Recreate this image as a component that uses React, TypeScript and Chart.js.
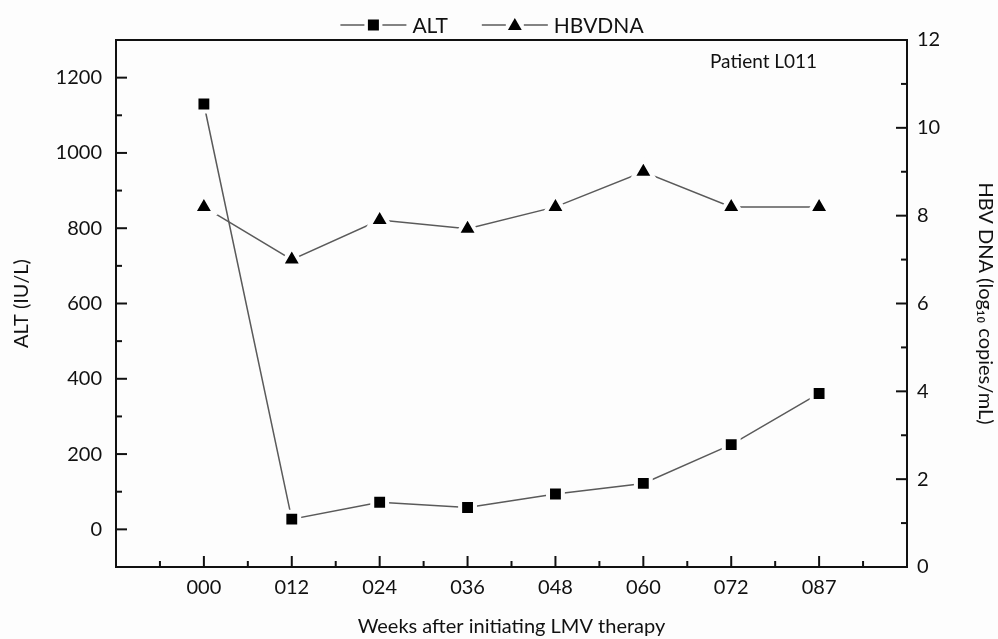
import React, { useEffect, useRef } from 'react';
import { Chart, registerables } from 'chart.js';
Chart.register(...registerables);

const weekLabels = ['000', '012', '024', '036', '048', '060', '072', '087'];
const altValues = [1130, 27, 72, 58, 94, 122, 225, 361];
const hbvValues = [8.2, 7.0, 7.9, 7.7, 8.2, 9.0, 8.2, 8.2];
const altTicks = [0, 200, 400, 600, 800, 1000, 1200];
const hbvTicks = [0, 2, 4, 6, 8, 10, 12];
const seriesNames = ['ALT', 'HBVDNA'];

const FONT = 'Lato, "Open Sans", sans-serif';
const LINE_COLOR = '#5a5a5a';

function drawMarker(ctx: CanvasRenderingContext2D, kind: string, x: number, y: number) {
  ctx.save();
  ctx.fillStyle = '#000';
  ctx.beginPath();
  if (kind === 'rect') {
    ctx.rect(x - 5.5, y - 5.5, 11, 11);
  } else {
    const r = 8;
    ctx.moveTo(x, y - r);
    ctx.lineTo(x + r * 0.866, y + r / 2);
    ctx.lineTo(x - r * 0.866, y + r / 2);
    ctx.closePath();
  }
  ctx.fill();
  ctx.restore();
}

const framePlugin = {
  id: 'framePlugin',
  afterDraw(chart: any) {
    const { ctx, chartArea } = chart;
    const { left, right, top, bottom } = chartArea;
    const xS = chart.scales.x;
    const yL = chart.scales.y;
    const yR = chart.scales.y1;
    ctx.save();
    ctx.strokeStyle = '#111';
    ctx.lineWidth = 2;
    ctx.strokeRect(left, top, right - left, bottom - top);
    const tick = (x1: number, y1: number, x2: number, y2: number) => {
      ctx.beginPath();
      ctx.moveTo(x1, y1);
      ctx.lineTo(x2, y2);
      ctx.stroke();
    };
    altTicks.forEach((v, i) => {
      const y = yL.getPixelForValue(v);
      tick(left, y, left + 11, y);
      if (i < altTicks.length - 1) {
        const ym = yL.getPixelForValue((v + altTicks[i + 1]) / 2);
        tick(left, ym, left + 6, ym);
      }
    });
    hbvTicks.forEach((v, i) => {
      const y = yR.getPixelForValue(v);
      tick(right, y, right - 11, y);
      if (i < hbvTicks.length - 1) {
        const ym = yR.getPixelForValue((v + hbvTicks[i + 1]) / 2);
        tick(right, ym, right - 6, ym);
      }
    });
    weekLabels.forEach((_, i) => {
      const x = xS.getPixelForValue(i);
      tick(x, bottom, x, bottom - 11);
      const xm1 = xS.getPixelForValue(i - 0.5);
      tick(xm1, bottom, xm1, bottom - 6);
      if (i === weekLabels.length - 1) {
        const xm2 = xS.getPixelForValue(i + 0.5);
        tick(xm2, bottom, xm2, bottom - 6);
      }
    });

    ctx.fillStyle = '#111';
    ctx.font = `19px ${FONT}`;
    ctx.textBaseline = 'middle';
    ctx.textAlign = 'left';
    ctx.fillText('Patient L011', 710, 62);

    ctx.font = `21px ${FONT}`;
    const lineLen = 66;
    const gapText = 6;
    const itemGap = 34;
    const widths = seriesNames.map((n) => ctx.measureText(n).width);
    const total = widths.reduce((a, b) => a + b, 0) + seriesNames.length * (lineLen + gapText) + itemGap * (seriesNames.length - 1);
    let x = 492 - total / 2;
    const ly = 25;
    seriesNames.forEach((name, i) => {
      ctx.strokeStyle = LINE_COLOR;
      ctx.lineWidth = 1.5;
      ctx.beginPath();
      ctx.moveTo(x, ly);
      ctx.lineTo(x + lineLen, ly);
      ctx.stroke();
      ctx.fillStyle = '#fdfdfd';
      ctx.fillRect(x + lineLen / 2 - 9, ly - 9, 18, 18);
      drawMarker(ctx, i === 0 ? 'rect' : 'triangle', x + lineLen / 2, i === 0 ? ly : ly + 1);
      ctx.fillStyle = '#111';
      ctx.fillText(name, x + lineLen + gapText, ly + 1);
      x += lineLen + gapText + widths[i] + itemGap;
    });
    ctx.restore();
  },
};

export default function App() {
  const ref = useRef<HTMLCanvasElement>(null);
  useEffect(() => {
    if (!ref.current) return;
    const tickFont = { family: FONT, size: 20 };
    const titleFont = { family: FONT, size: 20 };
    const chart = new Chart(ref.current, {
      type: 'line',
      data: {
        datasets: [
          {
            label: seriesNames[0],
            data: altValues.map((v, i) => ({ x: i, y: v })),
            yAxisID: 'y',
            borderColor: LINE_COLOR,
            borderWidth: 1.5,
            pointStyle: 'rect',
            pointRadius: 10.5,
            pointBackgroundColor: '#000',
            pointBorderColor: '#fdfdfd',
            pointBorderWidth: 4,
            tension: 0,
          },
          {
            label: seriesNames[1],
            data: hbvValues.map((v, i) => ({ x: i, y: v })),
            yAxisID: 'y1',
            borderColor: LINE_COLOR,
            borderWidth: 1.5,
            pointStyle: 'triangle',
            pointRadius: 12,
            pointBackgroundColor: '#000',
            pointBorderColor: '#fdfdfd',
            pointBorderWidth: 4,
            tension: 0,
          },
        ],
      },
      options: {
        responsive: false,
        animation: false,
        layout: { padding: { top: 40, left: 0, right: 0, bottom: 0 } },
        plugins: { legend: { display: false }, tooltip: { enabled: false } },
        scales: {
          x: {
            type: 'linear',
            min: -1,
            max: weekLabels.length,
            afterBuildTicks: (s: any) => {
              s.ticks = weekLabels.map((_, i) => ({ value: i }));
            },
            afterFit: (s: any) => {
              s.height = 72;
            },
            ticks: {
              callback: (v: any) => weekLabels[v] ?? '',
              font: tickFont,
              color: '#111',
              padding: 9,
              maxRotation: 0,
              autoSkip: false,
            },
            grid: { drawOnChartArea: false, drawTicks: false },
            border: { display: false },
            title: {
              display: true,
              text: 'Weeks after initiating LMV therapy',
              font: titleFont,
              color: '#111',
              padding: { top: 0, bottom: 0 },
            },
          },
          y: {
            position: 'left',
            min: -100,
            max: 1300,
            afterBuildTicks: (s: any) => {
              s.ticks = altTicks.map((v) => ({ value: v }));
            },
            afterFit: (s: any) => {
              s.width = 116;
            },
            ticks: { font: tickFont, color: '#111', padding: 14, callback: (v: any) => String(v) },
            grid: { drawOnChartArea: false, drawTicks: false },
            border: { display: false },
            title: {
              display: true,
              text: 'ALT (IU/L)',
              font: titleFont,
              color: '#111',
              padding: { top: 10, bottom: 0 },
            },
          },
          y1: {
            position: 'right',
            min: 0,
            max: 12,
            afterBuildTicks: (s: any) => {
              s.ticks = hbvTicks.map((v) => ({ value: v }));
            },
            afterFit: (s: any) => {
              s.width = 91;
            },
            ticks: { font: tickFont, color: '#111', padding: 10, callback: (v: any) => String(v) },
            grid: { drawOnChartArea: false, drawTicks: false },
            border: { display: false },
            title: {
              display: true,
              text: 'HBV DNA (log₁₀ copies/mL)',
              font: titleFont,
              color: '#111',
              padding: { top: 1, bottom: 0 },
            },
          },
        },
      },
      plugins: [framePlugin],
    });
    return () => chart.destroy();
  }, []);
  return (
    <div style={{ position: 'absolute', left: 0, top: 0, width: 998, height: 639, background: '#fdfdfd' }}>
      <canvas ref={ref} width={998} height={639} />
    </div>
  );
}
